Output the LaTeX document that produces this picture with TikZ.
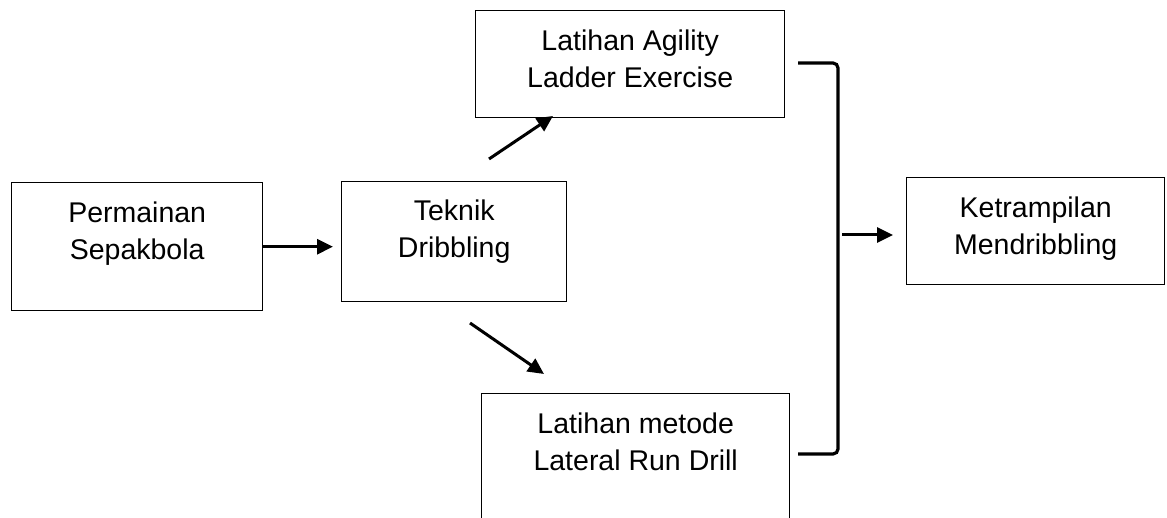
\documentclass[tikz,border=0pt]{standalone}
\usepackage{fontspec}
\setmainfont{Liberation Sans}
\usetikzlibrary{arrows.meta}
% strut that fixes the height of the first text line
\newcommand\firstline{\rule{0pt}{23pt}}
\begin{document}
\begin{tikzpicture}[x=1pt,y=-1pt,
  box/.style={draw, line width=1.4pt, inner sep=0pt, anchor=north west},
  lbl/.style={anchor=north, inner sep=0pt, align=center,
              font=\fontsize{28.5}{37.5}\selectfont},
  arr/.style={line width=3pt, -{Triangle[length=16pt,width=15pt]}},
  brk/.style={line width=3.2pt, rounded corners=5pt}]
\useasboundingbox (0,0) rectangle (1167,518);
\clip (0,0) rectangle (1167,518);

% boxes
\node[box, minimum width=251pt, minimum height=128pt] (a) at (11,182) {};
\node[box, minimum width=225pt, minimum height=120pt] (b) at (341,181) {};
\node[box, minimum width=309pt, minimum height=107pt] (c) at (475,10) {};
\node[box, minimum width=308pt, minimum height=150pt] (d) at (481,393) {};
\node[box, minimum width=258pt, minimum height=107pt] (e) at (906,177) {};

% texts
\node[lbl] (ta) at ([yshift=-17pt]a.north) {\firstline Permainan\\Sepakbola};
\node[lbl] (tb) at ([yshift=-16pt]b.north) {\firstline Teknik\\Dribbling};
\node[lbl] (tc) at ([yshift=-17pt]c.north) {\firstline Latihan Agility\\Ladder Exercise};
\node[lbl] (td) at ([yshift=-17pt]d.north) {\firstline Latihan metode\\Lateral Run Drill};
\node[lbl] (te) at ([yshift=-17pt]e.north) {\firstline Ketrampilan\\Mendribbling};

% arrows
\draw[arr, shorten >=8pt] (a.east) -- (a.east -| b.west);
\coordinate (u1) at (489,159);
\coordinate (u2) at (553,116);
\draw[arr] (u1) -- (u2);
\coordinate (d1) at (470,323);
\coordinate (d2) at (544,374);
\draw[arr] (d1) -- (d2);

% bracket joining the two exercises
\coordinate (k1) at (798,63);
\coordinate (k2) at (838,63);
\coordinate (k3) at (838,454);
\coordinate (k4) at (798,454);
\draw[brk] (k1) -- (k2) -- (k3) -- (k4);
\coordinate (km) at (842,235);
\draw[arr, shorten >=13pt] (km) -- (km -| e.west);
\end{tikzpicture}
\end{document}
